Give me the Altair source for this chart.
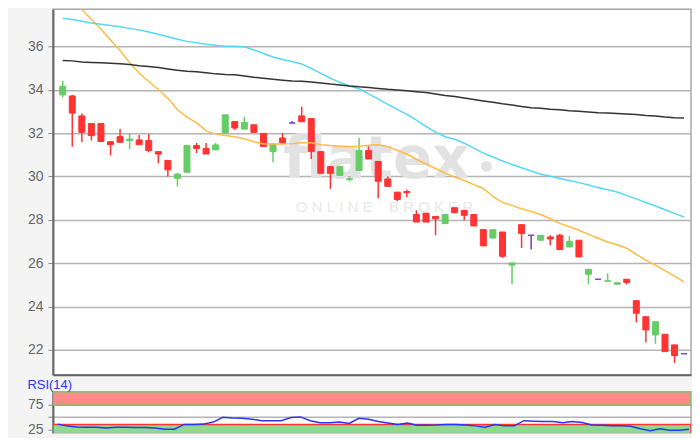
import altair as alt
import numpy as np
import pandas as pd

# ---- candle data ----
OPEN = [33.77, 33.72, 32.80, 32.45, 32.45, 31.61, 31.84, 31.66, 31.69, 31.66,
        31.15, 30.74, 29.92, 30.20, 31.43, 31.30, 31.23, 32.01, 32.54, 32.19,
        32.39, 31.99, 31.15, 31.78, 32.47, 32.80, 32.68, 31.15, 30.46, 30.05,
        29.86, 30.28, 31.20, 30.70, 29.89, 29.28, 29.31, 28.25, 28.31, 28.16,
        27.83, 28.56, 28.44, 28.25, 27.55, 27.16, 27.44, 25.91, 27.78, 27.29,
        27.06, 27.21, 27.29, 26.75, 27.06, 25.49, 25.26, 25.17, 25.03, 25.26,
        24.27, 23.53, 22.69, 22.72, 22.23, 21.82]
HIGH = [34.41, 33.77, 32.91, 32.45, 32.45, 31.61, 32.19, 32.00, 31.92, 31.96,
        31.15, 30.74, 30.18, 31.43, 31.55, 31.55, 31.55, 32.85, 32.54, 32.76,
        32.39, 31.99, 31.52, 32.01, 32.57, 33.22, 32.68, 31.15, 30.46, 30.46,
        29.97, 31.78, 31.39, 30.70, 30.01, 29.28, 29.39, 28.44, 28.31, 28.16,
        28.25, 28.56, 28.44, 28.25, 27.55, 27.55, 27.44, 26.01, 27.78, 27.29,
        27.29, 27.29, 27.36, 27.25, 27.06, 25.76, 25.26, 25.53, 25.10, 25.26,
        24.27, 23.53, 23.30, 22.72, 22.23, 21.82]
LOW = [33.65, 31.38, 31.58, 31.66, 31.62, 30.97, 31.58, 31.27, 31.47, 31.12,
       30.61, 30.00, 29.54, 30.20, 31.09, 31.04, 31.23, 32.01, 32.15, 32.19,
       32.04, 31.39, 30.66, 31.55, 32.47, 32.53, 30.81, 30.15, 29.43, 30.05,
       29.78, 30.28, 30.81, 29.00, 29.55, 28.86, 29.05, 27.90, 27.90, 27.29,
       27.83, 28.33, 27.98, 27.72, 26.80, 27.16, 26.24, 25.03, 26.70, 26.63,
       27.06, 26.83, 26.63, 26.75, 26.29, 25.03, 25.26, 25.17, 25.03, 25.02,
       23.27, 22.34, 22.28, 21.92, 21.39, 21.82]
CLOSE = [34.17, 32.93, 32.04, 31.89, 31.62, 31.47, 31.58, 31.73, 31.47, 31.20,
         31.04, 30.31, 30.11, 31.43, 31.30, 31.04, 31.46, 32.85, 32.24, 32.50,
         32.04, 31.39, 31.50, 31.55, 32.47, 32.53, 31.15, 30.15, 30.15, 30.46,
         29.90, 31.20, 30.81, 29.78, 29.55, 28.94, 29.25, 27.90, 27.90, 28.05,
         28.25, 28.33, 28.21, 27.72, 26.80, 27.55, 26.32, 26.01, 27.37, 27.29,
         27.29, 27.12, 26.63, 27.01, 26.29, 25.71, 25.26, 25.19, 25.10, 25.11,
         23.69, 22.92, 23.30, 21.92, 21.74, 21.82]

# ---- moving averages ----
MA_ORANGE = [38.60, 38.14, 37.70, 37.26, 36.80, 36.30, 35.82, 35.26, 34.78, 34.39,
             34.02, 33.61, 33.08, 32.74, 32.48, 32.11, 31.96, 31.89, 31.84, 31.75,
             31.61, 31.50, 31.50, 31.50, 31.52, 31.56, 31.56, 31.47, 31.43, 31.40,
             31.38, 31.40, 31.45, 31.47, 31.38, 31.20, 31.04, 30.80, 30.58, 30.37,
             30.16, 29.98, 29.82, 29.63, 29.45, 29.08, 28.80, 28.67, 28.51, 28.39,
             28.25, 28.05, 27.84, 27.68, 27.52, 27.33, 27.15, 26.98, 26.85, 26.69,
             26.41, 26.14, 25.91, 25.66, 25.40, 25.14]
MA_CYAN = [37.31, 37.25, 37.17, 37.09, 37.03, 36.97, 36.91, 36.84, 36.77, 36.67,
           36.57, 36.45, 36.34, 36.24, 36.18, 36.11, 36.06, 36.02, 36.01, 35.99,
           35.84, 35.68, 35.52, 35.40, 35.31, 35.20, 34.99, 34.76, 34.54, 34.35,
           34.18, 34.05, 33.82, 33.59, 33.33, 33.10, 32.87, 32.60, 32.32, 32.05,
           31.84, 31.72, 31.54, 31.31, 31.08, 30.90, 30.72, 30.56, 30.41, 30.26,
           30.11, 30.01, 29.91, 29.82, 29.72, 29.61, 29.49, 29.39, 29.29, 29.13,
           28.97, 28.80, 28.64, 28.47, 28.30, 28.13]
MA_BLACK = [35.36, 35.34, 35.29, 35.27, 35.25, 35.23, 35.21, 35.17, 35.12, 35.08,
            35.03, 34.97, 34.91, 34.86, 34.84, 34.79, 34.74, 34.71, 34.70, 34.64,
            34.58, 34.54, 34.49, 34.45, 34.41, 34.40, 34.37, 34.32, 34.27, 34.23,
            34.18, 34.14, 34.11, 34.07, 34.03, 34.00, 33.96, 33.92, 33.88, 33.81,
            33.74, 33.69, 33.63, 33.56, 33.49, 33.43, 33.36, 33.30, 33.23, 33.18,
            33.15, 33.11, 33.08, 33.04, 33.01, 32.98, 32.95, 32.93, 32.91, 32.89,
            32.86, 32.82, 32.79, 32.75, 32.72, 32.70]

# ---- RSI(14) ----
RSI = [35.6, 31.5, 29.8, 29.2, 29.2, 27.5, 29.2, 29.2, 28.9, 28.5,
       27.5, 25.0, 25.0, 35.0, 35.0, 35.6, 39.8, 49.6, 47.9, 47.4,
       45.6, 42.6, 42.6, 42.6, 49.1, 50.4, 42.6, 38.6, 38.6, 39.8,
       36.8, 47.4, 45.6, 40.8, 38.0, 35.0, 38.0, 33.3, 33.3, 33.8,
       35.0, 35.0, 33.8, 32.0, 29.2, 35.0, 32.0, 32.0, 42.6, 41.5,
       40.8, 40.8, 38.6, 40.8, 39.1, 33.8, 33.3, 32.0, 32.0, 31.0,
       26.2, 22.2, 26.2, 23.2, 23.2, 25.0]
RSI_BAND_LO = [74.5, 0.0]
RSI_BAND_HI = [102.0, 35.0]
RSI_BAND_NAME = ["overbought", "oversold"]

Y_TICKS = [22, 24, 26, 28, 30, 32, 34, 36]
RSI_TICKS = [25, 50, 75]

n = len(OPEN)
df = pd.DataFrame({"i": np.arange(n), "open": OPEN, "high": HIGH,
                   "low": LOW, "close": CLOSE})
df["dir"] = np.where(df.close > df.open, "up",
                     np.where(df.close < df.open, "down", "flat"))
df["blo"] = df[["open", "close"]].min(axis=1)
df["bhi"] = df[["open", "close"]].max(axis=1)
df["ma_o"] = MA_ORANGE
df["ma_c"] = MA_CYAN
df["ma_b"] = MA_BLACK
df["rsi"] = RSI

bands = pd.DataFrame({"lo": RSI_BAND_LO, "hi": RSI_BAND_HI, "band": RSI_BAND_NAME})

W = 639
FONT = "Liberation Sans"
NB = "\u00a0"
xscale = alt.Scale(domain=[-0.5, n - 0.8], nice=False, zero=False)
yscale = alt.Scale(domain=[20.85, 37.72], nice=False, zero=False)
cscale = alt.Scale(domain=["up", "down", "flat"],
                   range=["#66cc66", "#ff3333", "#6a3dd8"])

xaxis_main = alt.Axis(labels=False, ticks=False, grid=False, domain=True,
                      domainColor="#666666", domainWidth=2, title=None)
yaxis_main = alt.Axis(values=Y_TICKS, title=None, grid=True, gridColor="#b4b4b4",
                      gridWidth=1.5, labelFontSize=14, labelColor="#666666",
                      labelFont=FONT, tickColor="#888888", tickSize=5,
                      labelPadding=5, domainColor="#666666", domainWidth=2)

X = alt.X("i:Q", scale=xscale, axis=xaxis_main)

base = alt.Chart(df)

wm1 = alt.Chart(pd.DataFrame({"t": ["flatex"]})).mark_text(
    font="DejaVu Sans", fontSize=58, fontWeight="bold", color="#e2e2e2",
    align="center", baseline="middle").encode(
    text="t:N", x=alt.value(324), y=alt.value(152))
wm_dot = alt.Chart(pd.DataFrame({"t": ["\u25cf"]})).mark_text(
    font="DejaVu Sans", fontSize=14, color="#e2e2e2",
    align="center", baseline="middle").encode(
    text="t:N", x=alt.value(434), y=alt.value(157))
brand2 = NB.join("ONLINE") + NB * 4 + NB.join("BROKER")
wm2 = alt.Chart(pd.DataFrame({"t": [brand2]})).mark_text(
    font=FONT, fontSize=15, color="#e8e8e8", align="center",
    baseline="middle").encode(text="t:N", x=alt.value(332), y=alt.value(198))

wicks = base.mark_rule(strokeWidth=1.5).encode(
    x=X,
    y=alt.Y("low:Q", scale=yscale, axis=yaxis_main),
    y2="high:Q",
    color=alt.Color("dir:N", scale=cscale, legend=None))
bodies = base.mark_bar(size=6, strokeWidth=1).encode(
    x=X,
    y=alt.Y("blo:Q", scale=yscale, axis=yaxis_main),
    y2="bhi:Q",
    color=alt.Color("dir:N", scale=cscale, legend=None),
    stroke=alt.Stroke("dir:N", scale=cscale, legend=None))

def ma(col, colr):
    return base.mark_line(color=colr, strokeWidth=1.5, clip=True).encode(
        x=X, y=alt.Y(f"{col}:Q", scale=yscale, axis=yaxis_main))

main = alt.layer(wm1, wm_dot, wm2, wicks, bodies,
                 ma("ma_o", "#ffbb44"), ma("ma_c", "#55d8f8"), ma("ma_b", "#333333")
                 ).properties(width=W, height=366)

rsi_y = alt.Scale(domain=[18, 102], nice=False, zero=False)
rsi_axis = alt.Axis(values=RSI_TICKS, title=None, grid=True, gridColor="#b4b4b4",
                    gridWidth=1.5, labelFontSize=14, labelColor="#666666",
                    labelFont=FONT, tickColor="#888888", tickSize=5, labelPadding=5,
                    domainColor="#666666", domainWidth=2,
                    labelExpr="datum.value == 50 ? '' : datum.label")
band_rects = alt.Chart(bands).mark_rect(strokeWidth=1.5, clip=True).encode(
    x=alt.value(0), x2=alt.value(W),
    y=alt.Y("lo:Q", scale=rsi_y, axis=rsi_axis), y2="hi:Q",
    fill=alt.Fill("band:N", scale=alt.Scale(domain=RSI_BAND_NAME,
                                            range=["#ff8a8a", "#8fd88f"]), legend=None),
    stroke=alt.Stroke("band:N", scale=alt.Scale(domain=RSI_BAND_NAME,
                                                range=["#e86a6a", "#62bb62"]), legend=None))
rsi_line = base.mark_line(color="#2a35f0", strokeWidth=1.5, clip=True).encode(
    x=alt.X("i:Q", scale=xscale, axis=None),
    y=alt.Y("rsi:Q", scale=rsi_y, axis=rsi_axis))

rsi = alt.layer(band_rects, rsi_line).properties(
    width=W, height=41,
    title=alt.TitleParams("RSI(14)", anchor="start", fontSize=13, color="#2a35f0",
                          fontWeight="normal", font=FONT, offset=0))

chart = alt.vconcat(main, rsi, spacing=2).properties(
    padding={"left": 18, "top": 0, "right": 0, "bottom": 0},
    background="#f4f4f4"
).configure_view(fill="white", stroke="#aaaaaa", strokeWidth=1.5)

chart.save("out.html", embed_options={"renderer": "svg", "actions": False})
